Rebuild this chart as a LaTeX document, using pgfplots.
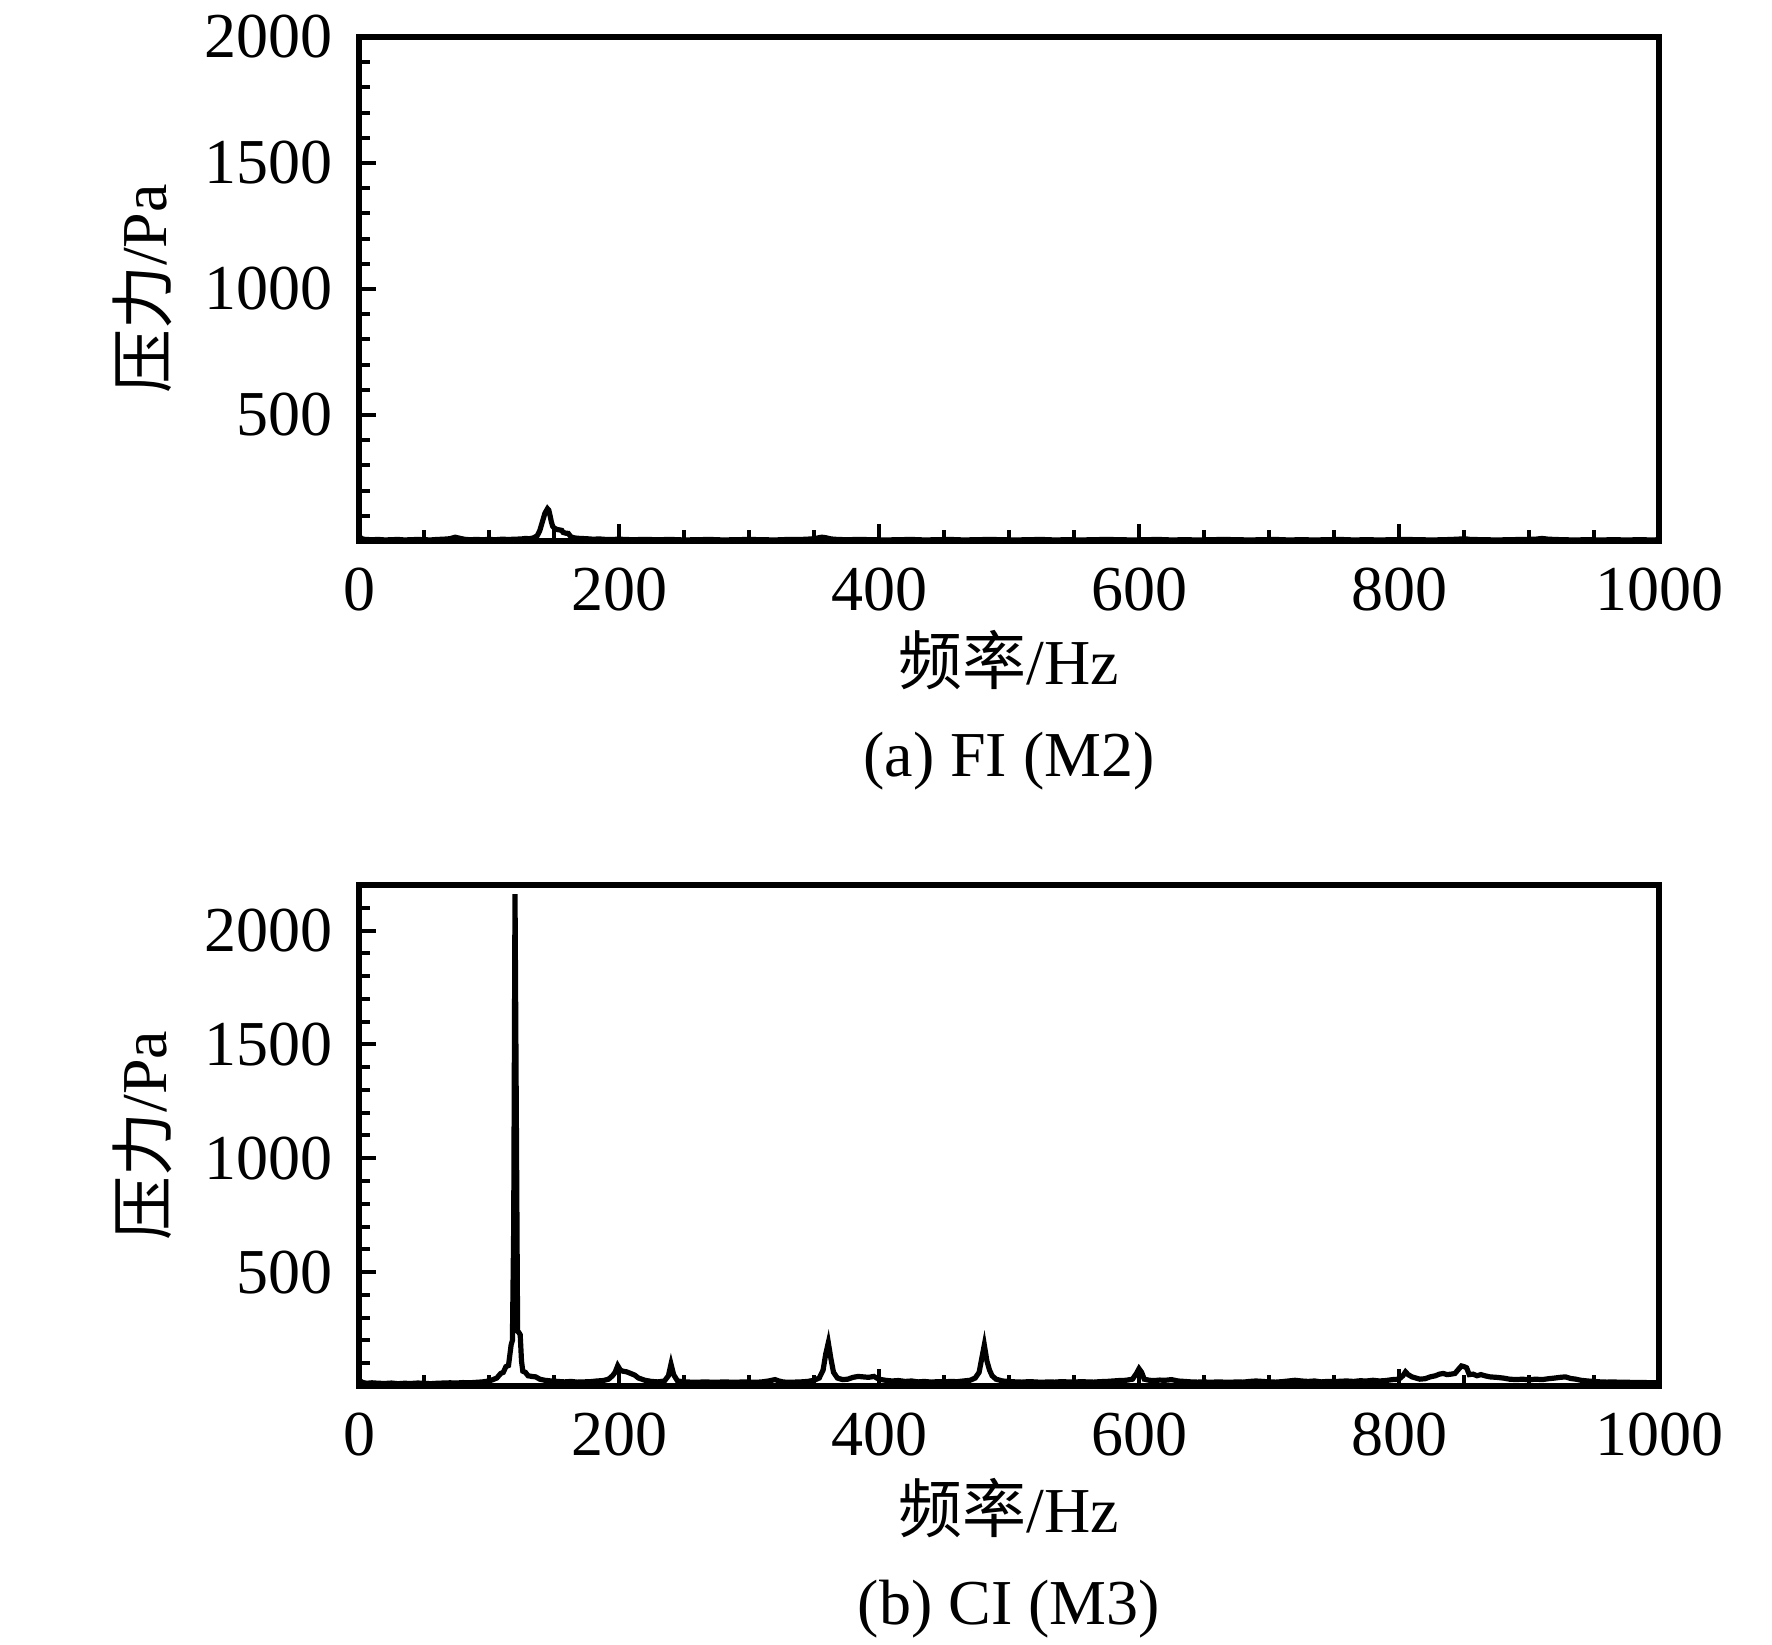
\documentclass[border=0pt]{standalone}
\usepackage{fontspec}
\setmainfont{Liberation Serif}
\newfontfamily\cjk{Noto Sans CJK SC}
\usepackage{pgfplots}
\pgfplotsset{compat=1.18}

\pgfplotsset{
  myax/.style={
    scale only axis, width=325pt, anchor=south west,
    xmin=0, xmax=1000, ymin=0,
    xtick={0,200,...,1000}, minor x tick num=3,
    ytick={500,1000,1500,2000},
    tick align=inside, xtick pos=bottom, ytick pos=left,
    major tick length=4.2pt, minor tick length=2.7pt,
    tick style={black, line width=1pt},
    axis line style={line width=1.4pt},
    /pgf/number format/assume math mode=true,
    /pgf/number format/1000 sep={},
    xticklabel style={yshift=-1.2pt},
    yticklabel style={xshift=-1.2pt},
    xlabel={{\cjk 频率}/Hz},
    ylabel={{\cjk 压力}/Pa},
    ylabel style={at={(axis description cs:-0.1477,0.5)}, anchor=base},
    clip=false,
  }
}

\begin{document}
\fontsize{16pt}{19pt}\selectfont
\begin{tikzpicture}
\useasboundingbox (0,0) rectangle (443pt,411pt);
\begin{axis}[myax, height=126pt, at={(89.75pt,275.75pt)}, ymax=2000,
  minor ytick={100,200,300,400,600,700,800,900,1100,1200,1300,1400,1600,1700,1800,1900},
  xlabel style={at={(axis description cs:0.5,-0.2857)}, anchor=base}]
\addplot[black, line width=1.3pt, sharp plot] table {
0 20
2 9
5 6
10 5
15 6
20 4
25 5
30 6
35 4
40 5
45 6
50 5
55 4
60 6
65 7
70 9
74 15
78 10
82 6
86 5
90 6
95 5
100 6
105 5
110 7
115 6
120 7
125 8
128 10
131 9
134 12
137 20
139 40
141 75
143 110
145 128
146 122
147 100
148 75
149 58
150 52
152 46
154 44
156 42
157 34
159 31
161 30
163 16
166 12
170 10
175 9
180 7
185 8
190 6
195 6
200 7
210 5
220 6
230 5
240 6
250 4
260 5
270 6
280 4
290 5
300 6
310 5
320 4
330 6
340 6
348 8
352 11
356 15
359 13
363 8
368 6
375 5
385 6
395 5
405 4
415 5
425 6
435 4
445 5
455 6
465 4
475 5
485 6
495 5
505 4
515 5
525 6
535 4
545 5
555 4
565 5
575 6
585 5
595 4
605 5
615 6
625 4
635 5
645 4
655 5
665 6
675 5
685 4
695 5
705 6
715 4
725 5
735 4
745 5
755 6
765 4
775 5
785 4
795 5
805 6
815 5
825 4
835 5
845 7
850 9
855 6
865 5
875 4
885 5
895 6
905 7
910 10
915 7
925 5
935 4
945 5
955 4
965 5
975 4
985 5
995 4
1000 5
};
\node[anchor=base] at (rel axis cs:0.5,-0.468) {(a) FI (M2)};
\end{axis}

\begin{axis}[myax, height=125.25pt, at={(89.75pt,64.5pt)}, ymax=2200,
  minor ytick={100,200,300,400,600,700,800,900,1100,1200,1300,1400,1600,1700,1800,1900,2100},
  xlabel style={at={(axis description cs:0.5,-0.2934)}, anchor=base}]
\addplot[black, line width=1.3pt, sharp plot] table {
0 25
3 15
6 12
10 14
15 12
20 11
25 13
30 10
35 12
40 11
45 13
50 12
55 10
60 12
65 13
70 14
75 13
80 15
85 14
90 16
95 18
100 22
103 28
106 35
109 55
111 60
113 85
115 90
117 180
118 200
119 700
120 2160
121 1200
122 240
123 235
124 225
125 110
126 65
128 60
130 45
133 42
136 40
139 30
143 25
148 22
153 20
158 18
163 20
168 17
173 18
178 19
183 22
188 24
192 30
195 45
197 60
199 89
201 70
203 65
206 62
209 55
212 48
215 35
220 25
225 20
230 18
235 22
238 45
240 96
242 50
245 22
250 18
255 17
260 16
265 18
270 17
275 16
280 18
285 17
290 16
295 18
300 17
305 16
310 18
315 22
320 28
323 22
326 18
330 16
335 17
340 18
345 20
350 25
354 35
357 70
359 140
361 190
363 120
365 60
368 35
372 28
376 30
380 38
384 42
388 40
392 38
396 42
400 30
405 25
410 22
415 24
420 20
425 22
430 18
435 20
440 17
445 19
450 18
455 20
460 19
465 22
470 25
474 35
477 60
479 120
481 180
483 110
485 70
487 45
490 30
495 22
500 20
505 18
510 17
515 19
520 18
525 16
530 18
535 17
540 19
545 18
550 17
555 19
560 18
565 17
570 19
575 20
580 22
585 24
590 25
595 30
598 55
600 76
602 60
604 30
608 25
612 24
616 26
620 25
625 28
630 22
635 20
640 18
645 17
650 18
655 16
660 18
665 17
670 16
675 18
680 17
685 20
690 22
695 20
700 18
705 17
710 19
715 22
720 25
725 22
730 20
735 22
740 18
745 20
750 19
755 21
760 22
765 20
770 23
775 22
780 25
785 22
790 24
795 28
800 30
803 45
805 62
807 50
810 40
813 35
816 30
820 32
824 40
828 45
831 52
834 55
837 50
840 52
843 55
846 75
848 88
850 85
852 80
854 50
857 52
860 45
863 50
866 45
870 40
875 38
880 35
885 30
890 28
895 30
900 27
905 30
910 28
915 32
920 35
924 38
928 40
932 33
936 30
940 25
945 22
950 20
955 18
960 17
965 18
970 16
975 17
980 15
985 16
990 15
995 14
1000 15
};
\node[anchor=base] at (rel axis cs:0.5,-0.477) {(b) CI (M3)};
\end{axis}
\end{tikzpicture}
\end{document}
